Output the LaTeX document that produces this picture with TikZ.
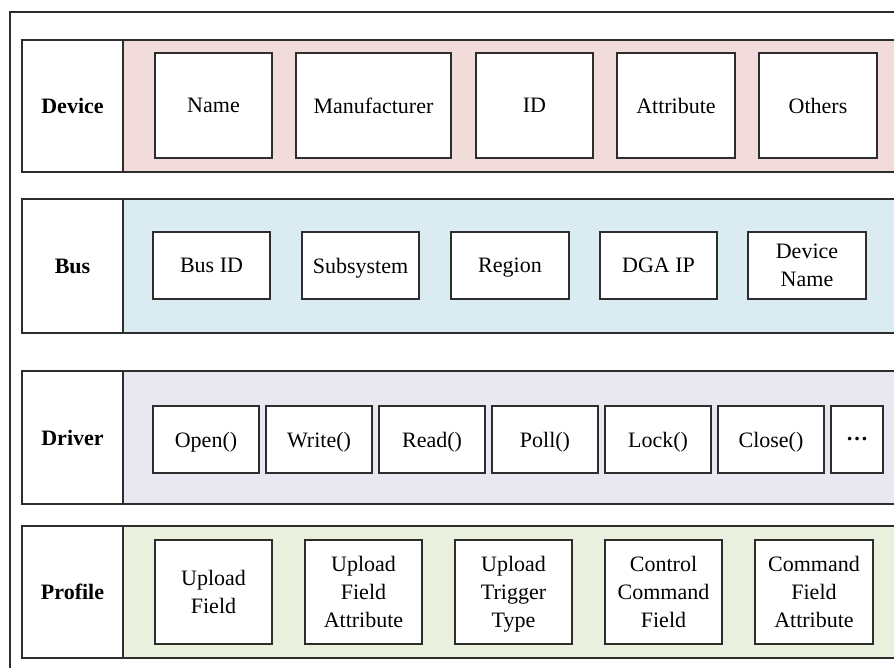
\documentclass[tikz,border=0pt]{standalone}
\usepackage{fontspec}
\setmainfont{Liberation Serif}
\definecolor{devfill}{RGB}{242,220,219}
\definecolor{busfill}{RGB}{218,236,242}
\definecolor{drvfill}{RGB}{233,231,240}
\definecolor{profill}{RGB}{234,240,222}
\definecolor{linec}{RGB}{45,45,45}
\newcommand{\nd}[1]{\raisebox{0pt}[\height][0pt]{#1}}
\tikzset{
  frameline/.style={draw=linec, line width=1.3pt},
  bandbox/.style={frameline},
  labelbox/.style={frameline, fill=white, minimum width=101pt, inner sep=0pt, font=\fontsize{22}{26}\selectfont\bfseries},
  itembox/.style={frameline, fill=white, inner sep=0pt, align=center, font=\fontsize{22}{28}\selectfont},
}
\begin{document}
\begin{tikzpicture}[x=1pt,y=-1pt]
\useasboundingbox (0,0) rectangle (894,668);
\clip (0,0) rectangle (894,668);
\fill[white] (0,0) rectangle (894,668);
\draw[frameline] (10,12) rectangle (920,700);

% Device band
\draw[bandbox, fill=devfill] (123,40) rectangle (920,172);
\node[labelbox, minimum height=132pt] (devlbl) at (72.5,106) {\nd{Device}};
\node[itembox, minimum width=117pt, minimum height=105pt] (name) at (213.5,105.5) {\nd{Name}};
\node[itembox, minimum width=155pt, minimum height=105pt] (manu) at (373.5,105.5) {\nd{Manufacturer}};
\node[itembox, minimum width=117pt, minimum height=105pt] (id) at (534.5,105.5) {\nd{ID}};
\node[itembox, minimum width=118pt, minimum height=105pt] (attr) at (676,105.5) {\nd{Attribute}};
\node[itembox, minimum width=118pt, minimum height=105pt] (others) at (818,105.5) {\nd{Others}};

% Bus band
\draw[bandbox, fill=busfill] (123,199) rectangle (920,333);
\node[labelbox, minimum height=134pt] (buslbl) at (72.5,266) {\nd{Bus}};
\node[itembox, minimum width=117pt, minimum height=67pt] (busid) at (211.5,265.5) {\nd{Bus ID}};
\node[itembox, minimum width=117pt, minimum height=67pt] (subsys) at (360.5,265.5) {\nd{Subsystem}};
\node[itembox, minimum width=118pt, minimum height=67pt] (region) at (510,265.5) {\nd{Region}};
\node[itembox, minimum width=117pt, minimum height=67pt] (dgaip) at (658.5,265.5) {\nd{DGA IP}};
\node[itembox, minimum width=118pt, minimum height=67pt] (devname) at (807,265.5) {Device\\\nd{Name}};

% Driver band
\draw[bandbox, fill=drvfill] (123,371) rectangle (920,504);
\node[labelbox, minimum height=133pt] (drvlbl) at (72.5,437.5) {\nd{Driver}};
\node[itembox, minimum width=106pt, minimum height=67pt] (open) at (206,439.5) {\nd{Open()}};
\node[itembox, minimum width=106pt, minimum height=67pt] (write) at (319,439.5) {\nd{Write()}};
\node[itembox, minimum width=106pt, minimum height=67pt] (read) at (432,439.5) {\nd{Read()}};
\node[itembox, minimum width=106pt, minimum height=67pt] (poll) at (545,439.5) {\nd{Poll()}};
\node[itembox, minimum width=106pt, minimum height=67pt] (lock) at (658,439.5) {\nd{Lock()}};
\node[itembox, minimum width=106pt, minimum height=67pt] (close) at (771,439.5) {\nd{Close()}};
\node[itembox, minimum width=52pt, minimum height=67pt] (dots) at (857,439.5) {\textbf{\dots}};

% Profile band
\draw[bandbox, fill=profill] (123,526) rectangle (920,658);
\node[labelbox, minimum height=132pt] (prolbl) at (72.5,592) {\nd{Profile}};
\node[itembox, minimum width=117pt, minimum height=104pt] (upfield) at (213.5,592) {Upload\\\nd{Field}};
\node[itembox, minimum width=117pt, minimum height=104pt] (upfattr) at (363.5,592) {Upload\\Field\\\nd{Attribute}};
\node[itembox, minimum width=117pt, minimum height=104pt] (uptrig) at (513.5,592) {Upload\\Trigger\\\nd{Type}};
\node[itembox, minimum width=117pt, minimum height=104pt] (ctrlcmd) at (663.5,592) {Control\\Command\\\nd{Field}};
\node[itembox, minimum width=118pt, minimum height=104pt] (cmdattr) at (814,592) {Command\\Field\\\nd{Attribute}};
\end{tikzpicture}
\end{document}
